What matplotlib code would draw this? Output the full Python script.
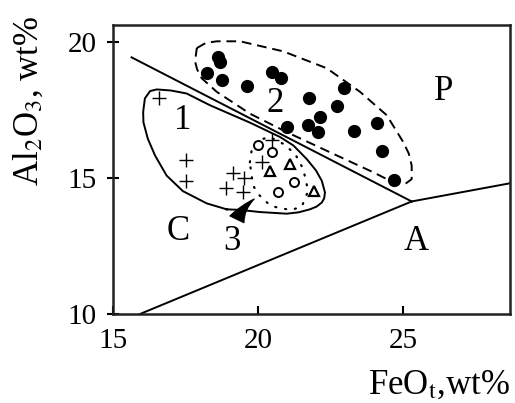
import matplotlib
matplotlib.use('Agg')
import matplotlib.pyplot as plt

plt.rcParams['font.family'] = ['Liberation Serif', 'DejaVu Serif']
plt.rcParams['mathtext.fontset'] = 'stix'

# discrimination lines (FeOt, Al2O3)
upper_x = [15.64, 25.30]
upper_y = [19.44, 14.14]
right_x = [25.30, 28.7]
right_y = [14.14, 14.81]
lower_x = [15.93, 25.30]
lower_y = [10.0, 14.14]

# group 2: filled circles
dots_x = [18.62, 18.70, 18.25, 18.75, 19.61, 20.47, 20.79, 22.98, 21.77, 22.74,
          22.14, 21.74, 22.08, 21.01, 23.32, 24.09, 24.26, 24.70]
dots_y = [19.44, 19.26, 18.85, 18.60, 18.40, 18.90, 18.69, 18.30, 17.95, 17.65,
          17.25, 16.96, 16.69, 16.88, 16.72, 17.04, 15.98, 14.93]

# group 1: crosses
cross_x = [16.60, 17.52, 17.52, 19.15, 19.52, 18.90, 19.49, 20.15, 20.50]
cross_y = [17.93, 15.67, 14.90, 15.19, 15.00, 14.63, 14.47, 15.58, 16.39]

# group 3: open circles and triangles
ring_x = [20.01, 20.49, 21.24, 20.68]
ring_y = [16.23, 15.95, 14.87, 14.47]
tri_x = [20.41, 21.10, 21.94]
tri_y = [15.27, 15.52, 14.51]

# field outlines
field1_x = [18.92, 18.23, 17.41, 16.85, 16.45, 16.20, 16.05, 16.04, 16.10, 16.28,
            16.51, 17.00, 17.54, 18.34, 19.72, 20.76, 21.22, 21.68, 22.00, 22.20,
            22.31, 22.28, 22.20, 22.02, 21.79, 21.40, 20.99, 20.07, 19.38, 18.92]
field1_y = [13.85, 14.07, 14.52, 15.09, 15.83, 16.45, 17.05, 17.43, 17.93, 18.20,
            18.26, 18.22, 18.11, 17.68, 17.04, 16.51, 16.20, 15.70, 15.28, 14.90,
            14.47, 14.25, 14.10, 13.95, 13.85, 13.74, 13.69, 13.75, 13.83, 13.85]
field2_x = [17.89, 18.20, 18.58, 19.38, 20.87, 22.37, 23.52, 24.44, 25.01, 25.20,
            25.30, 25.30, 25.07, 24.67, 23.98, 22.60, 20.99, 19.72, 18.58, 18.06,
            17.90, 17.83, 17.89]
field2_y = [19.78, 19.97, 20.03, 20.03, 19.66, 19.04, 18.17, 17.31, 16.32, 15.90,
            15.46, 14.96, 14.78, 14.84, 15.21, 15.89, 16.69, 17.37, 18.17, 18.67,
            19.00, 19.29, 19.78]
field3_x = [19.72, 19.78, 19.96, 20.41, 20.87, 21.28, 21.56, 21.73, 21.51, 21.16,
            20.82, 20.47, 20.24, 20.01, 19.84, 19.78, 19.72]
field3_y = [15.58, 16.01, 16.38, 16.51, 16.26, 15.89, 15.33, 14.53, 13.95, 13.83,
            13.88, 13.97, 14.16, 14.41, 14.71, 15.09, 15.58]

# field and group labels
labels = ['1', '2', 'P', 'C', 'A']
label_x = [17.42, 20.59, 26.39, 17.25, 25.47]
label_y = [17.12, 17.74, 18.17, 13.05, 12.68]
arrow_tip = (19.95, 14.29)
arrow_text = (19.09, 12.68)

fig = plt.figure(figsize=(5.15, 4.03), dpi=100)
ax = fig.add_axes([0.2194, 0.2208, 0.7709, 0.7172])

ax.plot(upper_x, upper_y, color='black', lw=1.4)
ax.plot(right_x, right_y, color='black', lw=1.4)
ax.plot(lower_x, lower_y, color='black', lw=1.4)

ax.plot(field1_x, field1_y, color='black', lw=1.4, solid_joinstyle='round')
ax.plot(field2_x, field2_y, color='black', lw=1.4, ls=(0, (5, 3)))
ax.plot(field3_x, field3_y, color='black', lw=1.6, ls=(0, (0.5, 4)),
        dash_capstyle='round')

ax.plot(dots_x, dots_y, 'o', color='black', ms=8.5)
ax.plot(cross_x, cross_y, '+', color='black', ms=10, mew=1.0)
ax.plot(ring_x, ring_y, 'o', mfc='white', mec='black', ms=6.5, mew=1.4)
ax.plot(tri_x, tri_y, '^', mfc='white', mec='black', ms=7, mew=1.6)

for txt, x, y in zip(labels, label_x, label_y):
    ax.text(x, y, txt, fontsize=25, ha='center', va='center')

ax.annotate('3', xy=arrow_tip, xytext=arrow_text, fontsize=25,
            ha='center', va='center',
            arrowprops=dict(arrowstyle='wedge,tail_width=0.45,shrink_factor=0.4',
                            fc='black', ec='black', lw=0.8,
                            connectionstyle='arc3,rad=-0.25'))

ax.set_xlim(15, 28.69)
ax.set_ylim(10, 20.63)
ax.set_xticks([15, 20, 25])
ax.set_yticks([10, 15, 20])
ax.tick_params(axis='x', direction='in', length=6, width=1.5, labelsize=21, pad=10)
ax.tick_params(axis='y', direction='inout', length=8, width=1.5, labelsize=21, pad=8)
for sp in ax.spines.values():
    sp.set_linewidth(1.8)
    sp.set_color('#222222')

fig.text(0.056, 0.75, r'Al$_2$O$_3$, wt%', rotation=90, fontsize=25,
         ha='center', va='center')
fig.text(0.99, 0.045, r'FeO$_\mathrm{t}$,wt%', fontsize=25, ha='right',
         va='center')

fig.savefig('out.png', dpi=100)
